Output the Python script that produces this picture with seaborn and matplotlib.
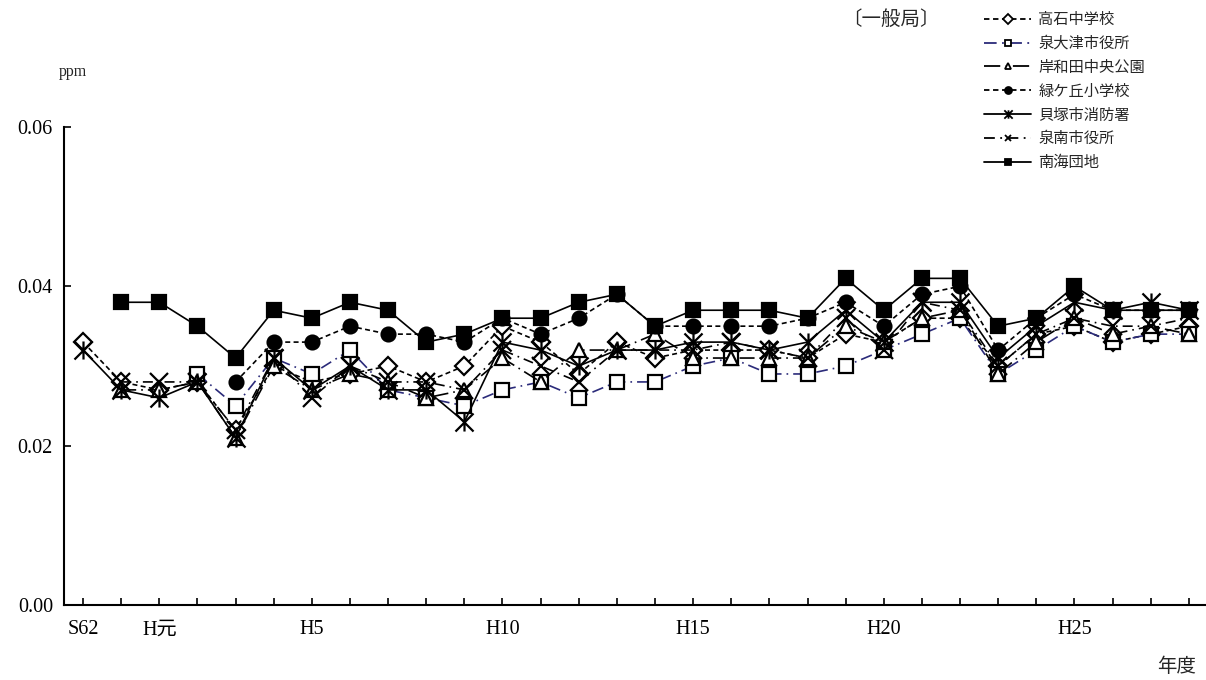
import numpy as np
import pandas as pd
import matplotlib
matplotlib.use("Agg")
import matplotlib.pyplot as plt
from matplotlib.lines import Line2D
from matplotlib.path import Path
import seaborn as sns

nan = np.nan

# 年度 (S62 .. H28)
years = ["S62", "S63"] + ["H元"] + [f"H{i}" for i in range(2, 29)]
shown_labels = {"S62", "H元", "H5", "H10", "H15", "H20", "H25"}

takaishi = [.033, .028, .027, .028, .022, .030, .028, .029, .030, .028,
            .030, .035, .033, .029, .033, .031, .032, .032, .032, .031,
            .034, .033, .036, .036, .030, .034, .035, .033, .034, .035]
izumiotsu = [nan, nan, nan, .029, .025, .031, .029, .032, .027, .026,
             .025, .027, .028, .026, .028, .028, .030, .031, .029, .029,
             .030, .032, .034, .036, .029, .032, .035, .033, .034, .034]
kishiwada = [nan, .027, .027, .028, .021, .030, .027, .029, .028, .026,
             .027, .031, .028, .032, .032, .034, .031, .031, .031, .031,
             .035, .033, .036, .037, .029, .033, .036, .034, .035, .034]
midorigaoka = [nan, nan, nan, nan, .028, .033, .033, .035, .034, .034,
               .033, .036, .034, .036, .039, .035, .035, .035, .035, .036,
               .038, .035, .039, .040, .032, .036, .039, .037, .037, .037]
kaizuka = [.032, .027, .026, .028, .021, .031, .027, .030, .027, .027,
           .023, .033, .032, .030, .032, .032, .033, .033, .032, .033,
           .037, .033, .038, .038, .031, .035, .038, .037, .038, .037]
sennan = [nan, .028, .028, .028, .022, .031, .026, .030, .028, .028,
          .027, .032, .030, .028, .032, .032, .032, .033, .032, .031,
          .036, .032, .038, .037, .030, .034, .036, .035, .035, .036]
nankai = [nan, .038, .038, .035, .031, .037, .036, .038, .037, .033,
          .034, .036, .036, .038, .039, .035, .037, .037, .037, .036,
          .041, .037, .041, .041, .035, .036, .040, .037, .037, .037]

star = Path([(-1, -1), (1, 1), (-1, 1), (1, -1), (0, -1), (0, 1)],
            [Path.MOVETO, Path.LINETO, Path.MOVETO, Path.LINETO,
             Path.MOVETO, Path.LINETO])

NAVY = "#2b2b7a"
# name, values, line colour, dashes, marker, size, face
series = [
    ("高石中学校", takaishi, "black", (0, (3, 2)), "D", 9, "white"),
    ("泉大津市役所", izumiotsu, NAVY, (0, (7, 3, 1, 3)), "s", 10, "white"),
    ("岸和田中央公園", kishiwada, "black", (0, (9, 3, 1, 3)), "^", 10, "white"),
    ("緑ケ丘小学校", midorigaoka, "black", (0, (3, 2)), "o", 10, "black"),
    ("貝塚市消防署", kaizuka, "black", "-", star, 13, "none"),
    ("泉南市役所", sennan, "black", (0, (6, 3, 1, 3)), "x", 13, "none"),
    ("南海団地", nankai, "black", "-", "s", 10, "black"),
]

sns.set_theme(style="ticks")
plt.rcParams["font.family"] = ["Liberation Serif", "Noto Sans CJK JP", "DejaVu Sans"]

fig = plt.figure(figsize=(12.06, 6.8), dpi=100)
ax = fig.add_axes([64 / 1206, 75 / 680, 1142 / 1206, 478 / 680])

x = np.arange(len(years))
for name, vals, col, ls, mk, ms, face in series:
    df = pd.DataFrame({"x": x, "y": vals}).dropna()
    sns.lineplot(data=df, x="x", y="y", ax=ax, color=col, linestyle=ls,
                 linewidth=1.2, marker=mk, markersize=ms,
                 markerfacecolor=face, markeredgecolor="black",
                 markeredgewidth=1.6, legend=False)

ax.set_xlim(-0.5, 29.45)
ax.set_ylim(0, 0.06)
ax.set_yticks([0, 0.02, 0.04, 0.06])
ax.set_yticklabels(["0.00", "0.02", "0.04", "0.06"])
ax.set_xticks(x)
ax.set_xticklabels([y if y in shown_labels else "" for y in years])
ax.set_xlabel("")
ax.set_ylabel("")
sns.despine(ax=ax)
for sp in ["left", "bottom"]:
    ax.spines[sp].set_linewidth(1.5)
    ax.spines[sp].set_color("black")
ax.tick_params(axis="both", direction="in", length=5, width=1.2,
               colors="black", labelsize=14.5)
ax.tick_params(axis="y", pad=8)
ax.tick_params(axis="x", pad=11)

cjk = ["Noto Sans CJK JP", "DejaVu Sans"]
fig.text(73 / 1206, 1 - 72 / 680, "ppm", fontsize=11.5, ha="center", va="center",
         family=["Liberation Serif"])
fig.text(891 / 1206, 1 - 19 / 680, "〔一般局〕", fontsize=14, ha="center",
         va="center", family=cjk)
fig.text(1177 / 1206, 1 - 667 / 680, "年度", fontsize=14, ha="center",
         va="center", family=cjk)

handles = []
for name, vals, col, ls, mk, ms, face in series:
    handles.append(Line2D([], [], color=col, linestyle=ls, linewidth=1.3,
                          marker=mk, markersize=5 if mk != star else 6,
                          markerfacecolor=face, markeredgecolor="black",
                          markeredgewidth=1.3, label=name))
fig.legend(handles=handles, loc="upper left",
           bbox_to_anchor=(984 / 1206, 1 - 11 / 680), frameon=False,
           prop={"family": cjk, "size": 11}, handlelength=3.1,
           handletextpad=0.45, labelspacing=0.45, borderpad=0,
           borderaxespad=0)

fig.savefig("out.png", dpi=100)
